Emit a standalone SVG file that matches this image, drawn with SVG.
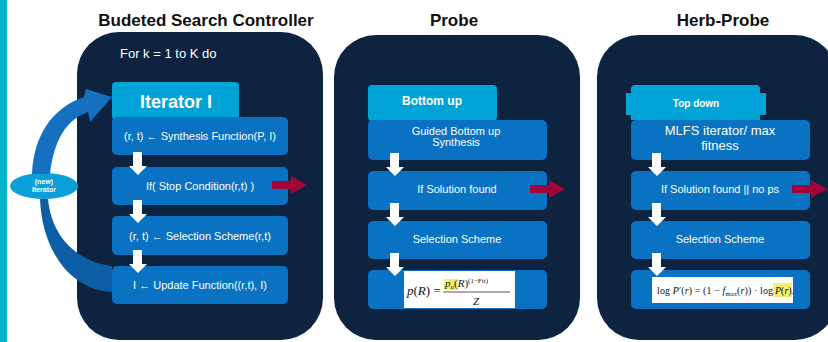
<svg xmlns="http://www.w3.org/2000/svg" width="828" height="342" viewBox="0 0 828 342">
<defs>
<style>
.title{font-family:"Liberation Sans",Arial,sans-serif;font-weight:bold;font-size:17px;fill:#111;text-anchor:middle}
.panel{fill:#0e2340}
.head{fill:#00a3d6}
.box{fill:#0a72c2}
.t{font-family:"Liberation Sans",Arial,sans-serif;font-size:11px;fill:#fff;text-anchor:middle}
.big{font-size:13px}
.hb{font-family:"Liberation Sans",Arial,sans-serif;font-weight:bold;fill:#fff;text-anchor:middle}
.down{fill:#fff}
.red{fill:#a3043a}
.math{font-family:"Liberation Serif","Times New Roman",serif;fill:#111}
</style>
<path id="dn" d="M-5,0 H4 V14 H9 L0,23 L-9,14 H-5 Z"/>
<path id="ra" d="M0,-4 H19 V-9 L35,0 L19,9 V4 H0 Z"/>
</defs>
<rect x="0" y="0" width="7" height="342" fill="#00b4cc"/>
<text class="title" x="206" y="26">Budeted Search Controller</text>
<text class="title" x="454" y="26">Probe</text>
<text class="title" x="723" y="26">Herb-Probe</text>

<g id="panel-controller">
<rect class="panel" x="77" y="32" width="246" height="308" rx="42"/>
<text x="120" y="58" font-family="Liberation Sans, Arial, sans-serif" font-size="13" fill="#fff">For k = 1 to K do</text>
</g>
<g id="panel-probe">
<rect class="panel" x="334" y="35" width="246" height="305" rx="42"/>
</g>
<g id="panel-herb">
<rect class="panel" x="597" y="35" width="240" height="305" rx="42"/>
</g>

<g id="iterator">
<rect class="head" x="112" y="82" width="127" height="38" rx="4"/>
<text class="hb" x="176" y="108" font-size="18">Iterator I</text>
</g>
<g id="synthesis">
<rect class="box" x="112" y="117" width="176" height="38" rx="5"/>
<text class="t" x="200" y="140">(r, t) ← Synthesis Function(P, I)</text>
</g>
<g id="stop">
<rect class="box" x="112" y="167" width="176" height="38" rx="5"/>
<text class="t" x="200" y="190">If( Stop Condition(r,t) )</text>
</g>
<g id="selection1">
<rect class="box" x="112" y="216" width="176" height="39" rx="5"/>
<text class="t" x="200" y="240">(r, t) ← Selection Scheme(r,t)</text>
</g>
<g id="update">
<rect class="box" x="112" y="266" width="176" height="38" rx="5"/>
<text class="t" x="200" y="289">I ← Update Function((r,t), I)</text>
</g>
<g id="new-iterator">
<ellipse cx="44" cy="186" rx="34" ry="13" fill="#0a9fd8"/>
<text x="44" y="184" font-family="Liberation Sans, Arial, sans-serif" font-size="7" font-weight="bold" fill="#fff" text-anchor="middle">(new)</text>
<text x="44" y="192" font-family="Liberation Sans, Arial, sans-serif" font-size="7" font-weight="bold" fill="#fff" text-anchor="middle">Iterator</text>
</g>

<g id="bottom-up">
<rect class="head" x="368" y="85" width="129" height="36" rx="4"/>
<text class="hb" x="432" y="105" font-size="12">Bottom up</text>
</g>
<g id="guided">
<rect class="box" x="368" y="120" width="179" height="40" rx="5"/>
<text class="t" x="456" y="135">Guided Bottom up</text>
<text class="t" x="456" y="146">Synthesis</text>
</g>
<g id="solution1">
<rect class="box" x="368" y="171" width="179" height="39" rx="5"/>
<text class="t" x="457" y="193">If Solution found</text>
</g>
<g id="selection2">
<rect class="box" x="368" y="221" width="179" height="38" rx="5"/>
<text class="t" x="457" y="243">Selection Scheme</text>
</g>
<g id="formula1">
<rect class="box" x="368" y="270" width="179" height="39" rx="5"/>
<rect x="404" y="271" width="111" height="37" fill="#fff"/>
<rect x="444" y="279" width="14" height="11" fill="#f3f06a"/>
<text class="math" x="407" y="295" font-size="13"><tspan font-style="italic">p</tspan>(<tspan font-style="italic">R</tspan>) =</text>
<text class="math" x="445" y="287" font-size="11"><tspan font-style="italic">p</tspan><tspan font-style="italic" font-size="7" dy="2">u</tspan><tspan dy="-2">(</tspan><tspan font-style="italic">R</tspan>)<tspan font-size="7" dy="-4">(1−Fit)</tspan></text>
<line x1="443" y1="292" x2="510" y2="292" stroke="#111" stroke-width="0.7"/>
<text class="math" x="476" y="305" font-size="11" font-style="italic" text-anchor="middle">Z</text>
</g>

<g id="top-down">
<path class="head" d="M631,89 Q631,85 635,85 H756 Q760,85 760,89 V93 H766 V115 H760 V120 H631 V115 H626 V93 H631 Z"/>
<text class="hb" x="696" y="107" font-size="10">Top down</text>
</g>
<g id="mlfs">
<rect class="box" x="631" y="120" width="179" height="40" rx="5"/>
<text class="t big" x="720" y="135">MLFS iterator/ max</text>
<text class="t big" x="720" y="150">fitness</text>
</g>
<g id="solution2">
<rect class="box" x="631" y="171" width="179" height="39" rx="5"/>
<text class="t" x="720" y="193">If Solution found || no ps</text>
</g>
<g id="selection3">
<rect class="box" x="631" y="221" width="179" height="38" rx="5"/>
<text class="t" x="720" y="243">Selection Scheme</text>
</g>
<g id="formula2">
<rect class="box" x="631" y="270" width="179" height="39" rx="5"/>
<rect x="652" y="277" width="141" height="26" fill="#fff"/>
<rect x="773" y="283" width="19" height="14" fill="#f3f06a"/>
<text class="math" x="657" y="294" font-size="10" textLength="116" lengthAdjust="spacing">log <tspan font-style="italic">P</tspan>′(<tspan font-style="italic">r</tspan>) = (1 − <tspan font-style="italic">f</tspan><tspan font-size="6.5" dy="1.5">max</tspan><tspan dy="-1.5">(</tspan><tspan font-style="italic">r</tspan>)) · log</text>
<text class="math" x="775" y="294" font-size="10"><tspan font-style="italic">P</tspan>(<tspan font-style="italic">r</tspan>).</text>
</g>

<g id="connectors">
<path fill="#1670c0" d="M32,174 C34,135 52,108 84,97 L86,89 L112,97 L90,122 L88,112 C66,120 54,140 50,174 Z"/>
<path fill="#0d5ea6" d="M40,199 C42,250 70,290 112,292 L112,266 C80,262 52,240 48,199 Z"/>
<use href="#dn" class="down" x="138" y="152"/>
<use href="#dn" class="down" x="138" y="200"/>
<use href="#dn" class="down" x="138" y="250"/>
<use href="#dn" class="down" x="395" y="153"/>
<use href="#dn" class="down" x="395" y="203"/>
<use href="#dn" class="down" x="395" y="253"/>
<use href="#dn" class="down" x="657" y="153"/>
<use href="#dn" class="down" x="657" y="203"/>
<use href="#dn" class="down" x="657" y="253"/>
<use href="#ra" class="red" x="272" y="185"/>
<use href="#ra" class="red" x="530" y="189"/>
<use href="#ra" class="red" x="792" y="189"/>
</g>
</svg>
